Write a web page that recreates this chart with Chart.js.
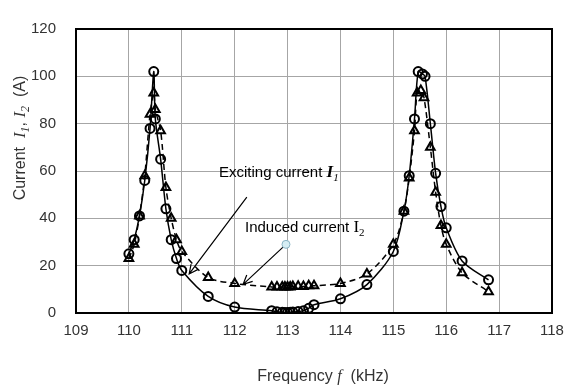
<!DOCTYPE html>
<html>
<head>
<meta charset="utf-8">
<script src="https://cdn.jsdelivr.net/npm/chart.js@4.4.1/dist/chart.umd.min.js"></script>
<style>
  html, body { margin: 0; padding: 0; background: #fff; }
  canvas { display: block; }
</style>
</head>
<body>
<canvas id="chart" width="564" height="388"></canvas>
<script>
// ── data ──────────────────────────────────────────
const freqI1 = [110.0, 110.1, 110.2, 110.3, 110.4, 110.47, 110.5, 110.6, 110.7, 110.8, 110.9, 111.0,
  111.5, 112.0, 112.7, 112.8, 112.9, 112.95, 113.0, 113.05, 113.1, 113.2, 113.3, 113.4, 113.5,
  114.0, 114.5, 115.0, 115.2, 115.3, 115.4, 115.47, 115.55, 115.6, 115.7, 115.8, 115.9, 116.0, 116.3, 116.8];
const currentI1 = [25, 31, 41, 56, 78, 102, 82, 65, 44, 31, 23, 18,
  7, 2.5, 1, 0.5, 0.3, 0.2, 0.2, 0.3, 0.4, 0.6, 1, 2, 3.5,
  6, 12, 26, 43, 58, 82, 102, 101, 100, 80, 59, 45, 36, 22, 14];

const freqI2 = [110.0, 110.1, 110.2, 110.3, 110.4, 110.47, 110.5, 110.6, 110.7, 110.8, 110.9, 111.0,
  111.5, 112.0, 112.7, 112.8, 112.9, 112.95, 113.0, 113.05, 113.1, 113.2, 113.3, 113.4, 113.5,
  114.0, 114.5, 115.0, 115.2, 115.3, 115.4, 115.45, 115.52, 115.58, 115.7, 115.8, 115.9, 116.0, 116.3, 116.8];
const currentI2 = [23, 29, 41, 58, 84, 93, 86, 77, 53, 40, 31, 26,
  15, 12.5, 11, 11, 11, 11, 11, 11, 11.2, 11.3, 11.2, 11.5, 11.5,
  12.5, 16.5, 29, 43, 57, 77, 93, 94, 91, 70, 51, 37, 29, 17, 9];

const xMin = 109, xMax = 118, xStep = 1;
const yMin = 0, yMax = 120, yStep = 20;

const TEXT = '#333';
const SANS = '"Liberation Sans", Arial, sans-serif';
const SERIF = '"Liberation Serif", "Times New Roman", serif';

const toPoints = (xs, ys) => xs.map((x, i) => ({ x, y: ys[i] }));

// draw a run of text pieces with mixed fonts (italic symbols, subscripts)
function drawRich(ctx, parts, x, y) {
  let cx = x;
  parts.forEach(p => {
    ctx.font = p.font;
    ctx.fillText(p.t, cx, y + (p.dy || 0));
    cx += ctx.measureText(p.t).width;
  });
}
function richWidth(ctx, parts) {
  return parts.reduce((w, p) => { ctx.font = p.font; return w + ctx.measureText(p.t).width; }, 0);
}

const frameAndLabels = {
  id: 'frameAndLabels',
  beforeDatasetsDraw(chart) {
    const { ctx, chartArea: a } = chart;
    ctx.save();
    ctx.strokeStyle = '#000';
    ctx.lineWidth = 2;
    ctx.strokeRect(a.left, a.top, a.right - a.left, a.bottom - a.top);
    ctx.restore();
  },
  afterDraw(chart) {
    const { ctx, chartArea: a, scales } = chart;
    const px = v => scales.x.getPixelForValue(v);
    const py = v => scales.y.getPixelForValue(v);
    ctx.save();
    ctx.fillStyle = TEXT;
    ctx.textBaseline = 'alphabetic';
    ctx.textAlign = 'left';

    // x axis title
    const xt = [
      { t: 'Frequency ', font: `16px ${SANS}` },
      { t: 'f', font: `italic 16px ${SERIF}` },
      { t: '  (kHz)', font: `16px ${SANS}` }
    ];
    const xw = richWidth(ctx, xt);
    drawRich(ctx, xt, (a.left + a.right) / 2 + 9 - xw / 2, 381);

    // y axis title (rotated)
    const yt = [
      { t: 'Current  ', font: `16px ${SANS}` },
      { t: 'I', font: `italic 17px ${SERIF}` },
      { t: '1', font: `italic 12px ${SERIF}`, dy: 4 },
      { t: ', ', font: `16px ${SANS}` },
      { t: 'I', font: `italic 17px ${SERIF}` },
      { t: '2', font: `italic 12px ${SERIF}`, dy: 4 },
      { t: '  (A)', font: `16px ${SANS}` }
    ];
    const yw = richWidth(ctx, yt);
    ctx.save();
    ctx.translate(25, 138);
    ctx.rotate(-Math.PI / 2);
    drawRich(ctx, yt, -yw / 2, 0);
    ctx.restore();

    // annotations
    ctx.fillStyle = '#000';
    drawRich(ctx, [
      { t: 'Exciting current ', font: `15px ${SANS}` },
      { t: 'I', font: `bold italic 17px ${SERIF}` },
      { t: '1', font: `italic 11px ${SERIF}`, dy: 4 }
    ], 219, 177);
    drawRich(ctx, [
      { t: 'Induced current ', font: `15px ${SANS}` },
      { t: 'I', font: `17px ${SERIF}` },
      { t: '2', font: `11px ${SERIF}`, dy: 4 }
    ], 245, 232);

    const arrow = (x0, y0, x1, y1) => {
      const ang = Math.atan2(y1 - y0, x1 - x0);
      const h = 10;
      ctx.beginPath();
      ctx.moveTo(x0, y0);
      ctx.lineTo(x1, y1);
      ctx.moveTo(x1 - h * Math.cos(ang - 0.45), y1 - h * Math.sin(ang - 0.45));
      ctx.lineTo(x1, y1);
      ctx.lineTo(x1 - h * Math.cos(ang + 0.45), y1 - h * Math.sin(ang + 0.45));
      ctx.stroke();
    };
    ctx.strokeStyle = '#000';
    ctx.lineWidth = 1.2;
    arrow(px(112.23), py(49), px(111.14), py(16.5));
    arrow(px(112.97), py(29), px(112.16), py(12.1));

    // start dot of the second arrow
    ctx.beginPath();
    ctx.arc(px(112.97), py(29), 4, 0, Math.PI * 2);
    ctx.fillStyle = '#d6eef4';
    ctx.fill();
    ctx.strokeStyle = '#8ab4c4';
    ctx.lineWidth = 1;
    ctx.stroke();
    ctx.restore();
  }
};

new Chart(document.getElementById('chart'), {
  type: 'scatter',
  data: {
    datasets: [
      {
        label: 'I1',
        data: toPoints(freqI1, currentI1),
        showLine: true,
        borderColor: '#000',
        borderWidth: 1.5,
        tension: 0.3,
        pointStyle: 'circle',
        pointRadius: 4.5,
        pointBorderWidth: 2,
        pointBorderColor: '#000',
        pointBackgroundColor: 'rgba(255,255,255,0)'
      },
      {
        label: 'I2',
        data: toPoints(freqI2, currentI2),
        showLine: true,
        borderColor: '#000',
        borderWidth: 1.5,
        borderDash: [6, 4],
        tension: 0.3,
        pointStyle: 'triangle',
        pointRadius: 5,
        pointBorderWidth: 2,
        pointBorderColor: '#000',
        pointBackgroundColor: 'rgba(255,255,255,0)'
      }
    ]
  },
  options: {
    responsive: false,
    animation: false,
    devicePixelRatio: 1,
    layout: { padding: { top: 15, right: 0, left: 0, bottom: 0 } },
    plugins: { legend: { display: false }, tooltip: { enabled: false } },
    scales: {
      x: {
        type: 'linear', min: xMin, max: xMax,
        ticks: { stepSize: xStep, color: TEXT, font: { size: 15, family: SANS }, padding: 9, maxRotation: 0 },
        grid: { color: '#a6a6a6', lineWidth: 1, drawTicks: false },
        border: { color: '#000', width: 2 },
        afterFit: s => { s.height = 75; s.paddingRight = 12; }
      },
      y: {
        type: 'linear', min: yMin, max: yMax,
        ticks: { stepSize: yStep, color: TEXT, font: { size: 15, family: SANS }, padding: 20 },
        grid: { color: '#a6a6a6', lineWidth: 1, drawTicks: false },
        border: { color: '#000', width: 2 },
        afterFit: s => { s.width = 76; }
      }
    }
  },
  plugins: [frameAndLabels]
});
</script>
</body>
</html>
